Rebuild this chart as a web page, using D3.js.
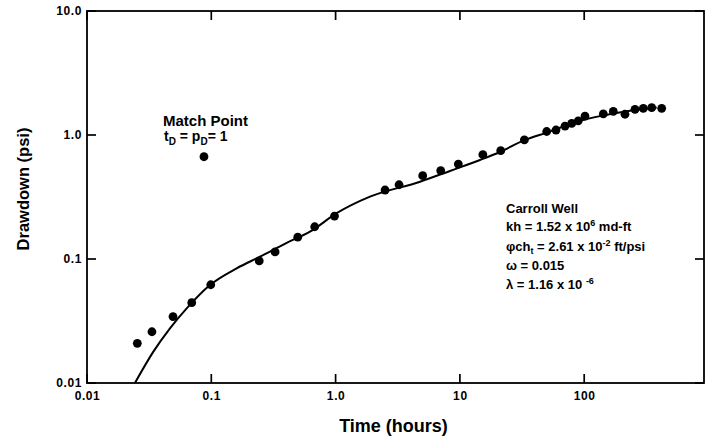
<!DOCTYPE html>
<html>
<head>
<meta charset="utf-8">
<script src="https://cdn.jsdelivr.net/npm/d3@7"></script>
<style>
  html, body { margin: 0; padding: 0; background: #fff; }
  svg { display: block; }
  text { font-family: "Liberation Sans", Arial, Helvetica, sans-serif; fill: #000; }
</style>
</head>
<body>
<svg id="chart" width="713" height="438"></svg>
<script>
// Measured drawdown, Carroll Well (time in hours, drawdown in psi)
const obsTime = [0.0254, 0.0333, 0.0492, 0.0696, 0.099, 0.243, 0.326, 0.496, 0.679, 0.98,
                 2.50, 3.24, 5.02, 7.01, 9.71, 15.3, 21.3, 33.0, 49.9, 59.3,
                 70.1, 79.3, 89.6, 101.5, 142.5, 171.4, 212.9, 256.3, 298.9, 349.2, 420.2];
const obsDrawdown = [0.0209, 0.0259, 0.0343, 0.0444, 0.062, 0.0964, 0.114, 0.150, 0.182, 0.222,
                     0.360, 0.397, 0.470, 0.517, 0.583, 0.694, 0.747, 0.912, 1.067, 1.097,
                     1.18, 1.24, 1.30, 1.42, 1.48, 1.55, 1.47, 1.61, 1.64, 1.66, 1.64];

// Type-curve match (double-porosity model)
const fitTime = [0.0243, 0.0342, 0.0465, 0.0634, 0.0976, 0.160, 0.2465, 0.404, 0.622, 1.02,
                 1.89, 4.78, 8.32, 14.5, 21.0, 32.4, 49.9, 92.5, 134, 234, 383];
const fitDrawdown = [0.0100, 0.0179, 0.0276, 0.040, 0.0617, 0.0841, 0.1044, 0.135, 0.166, 0.234,
                     0.318, 0.42, 0.513, 0.628, 0.729, 0.90, 1.045, 1.30, 1.42, 1.57, 1.67];

// Match point
const matchTime = [0.0873];
const matchDrawdown = [0.668];

// Axes
const xTickValues = [0.01, 0.1, 1, 10, 100];
const xTickLabels = ["0.01", "0.1", "1.0", "10", "100"];
const yTickValues = [0.01, 0.1, 1, 10];
const yTickLabels = ["0.01", "0.1", "1.0", "10.0"];
const xMax = 920;

const svg = d3.select("#chart");
const pLeft = 87, pRight = 704, pTop = 11, pBottom = 383;

const x = d3.scaleLog().domain([0.01, xMax]).range([pLeft, pRight]);
const y = d3.scaleLog().domain([0.01, 10]).range([pBottom, pTop]);

svg.append("defs").append("clipPath").attr("id", "plotClip")
  .append("rect").attr("x", pLeft).attr("y", pTop)
  .attr("width", pRight - pLeft).attr("height", pBottom - pTop);

// Tick labels via d3 axes (tick marks drawn separately, pointing inward)
const fmt = (labels, values) => d => labels[values.indexOf(d)];
const tickLen = 9;

const gB = svg.append("g").attr("transform", `translate(0,${pBottom})`)
  .call(d3.axisBottom(x).tickValues(xTickValues).tickFormat(fmt(xTickLabels, xTickValues))
    .tickSize(0).tickPadding(8));
const gL = svg.append("g").attr("transform", `translate(${pLeft},0)`)
  .call(d3.axisLeft(y).tickValues(yTickValues).tickFormat(fmt(yTickLabels, yTickValues))
    .tickSize(0).tickPadding(5));

[gB, gL].forEach(g => {
  g.select(".domain").remove();
  g.selectAll(".tick line").remove();
  g.selectAll(".tick text")
    .attr("fill", "#000")
    .style("font-size", "12px")
    .style("font-weight", "bold")
    .style("letter-spacing", "0.6px")
    .style("font-family", "'Liberation Sans', Arial, Helvetica, sans-serif");
});

// Inward tick marks on all four sides
const ticks = svg.append("g").attr("stroke", "#000").attr("stroke-width", 1.7);
xTickValues.forEach(v => {
  ticks.append("line").attr("x1", x(v)).attr("x2", x(v)).attr("y1", pBottom).attr("y2", pBottom - tickLen);
  ticks.append("line").attr("x1", x(v)).attr("x2", x(v)).attr("y1", pTop).attr("y2", pTop + tickLen);
});
yTickValues.forEach(v => {
  ticks.append("line").attr("x1", pLeft).attr("x2", pLeft + tickLen).attr("y1", y(v)).attr("y2", y(v));
  ticks.append("line").attr("x1", pRight).attr("x2", pRight - tickLen).attr("y1", y(v)).attr("y2", y(v));
});

// Plot frame
svg.append("rect")
  .attr("x", pLeft).attr("y", pTop)
  .attr("width", pRight - pLeft).attr("height", pBottom - pTop)
  .attr("fill", "none").attr("stroke", "#000").attr("stroke-width", 1.8);

// Fitted curve
const fitPts = fitTime.map((t, i) => [t, fitDrawdown[i]]);
svg.append("path")
  .datum(fitPts)
  .attr("clip-path", "url(#plotClip)")
  .attr("fill", "none")
  .attr("stroke", "#000")
  .attr("stroke-width", 2)
  .attr("d", d3.line().x(d => x(d[0])).y(d => y(d[1])).curve(d3.curveMonotoneX));

// Observed points
const obsPts = obsTime.map((t, i) => [t, obsDrawdown[i]]);
svg.append("g").selectAll("circle")
  .data(obsPts).join("circle")
  .attr("cx", d => x(d[0])).attr("cy", d => y(d[1]))
  .attr("r", 4.4).attr("fill", "#000");

// Match point marker
svg.append("g").selectAll("circle")
  .data(matchTime.map((t, i) => [t, matchDrawdown[i]])).join("circle")
  .attr("cx", d => x(d[0])).attr("cy", d => y(d[1]))
  .attr("r", 4.4).attr("fill", "#000");

// Match point label
const mp = svg.append("g").style("font-weight", "bold");
mp.append("text").attr("x", 163).attr("y", 126).style("font-size", "15px").text("Match Point");
const mp2 = mp.append("text").attr("x", 164).attr("y", 141).style("font-size", "14px");
mp2.append("tspan").text("t");
mp2.append("tspan").attr("dy", 4).style("font-size", "10px").text("D");
mp2.append("tspan").attr("dy", -4).text(" = p");
mp2.append("tspan").attr("dy", 4).style("font-size", "10px").text("D");
mp2.append("tspan").attr("dy", -4).text("= 1");

// Well parameters
const info = svg.append("g").style("font-weight", "bold").style("font-size", "13px");
const ix = 506;
info.append("text").attr("x", ix).attr("y", 213).text("Carroll Well");

const l1 = info.append("text").attr("x", ix).attr("y", 231);
l1.append("tspan").text("kh = 1.52 x 10");
l1.append("tspan").attr("dy", -5).style("font-size", "9px").text("6");
l1.append("tspan").attr("dy", 5).text(" md-ft");

const l2 = info.append("text").attr("x", ix).attr("y", 251);
l2.append("tspan").text("φch");
l2.append("tspan").attr("dy", 3).style("font-size", "9px").text("t");
l2.append("tspan").attr("dy", -3).text(" = 2.61 x 10");
l2.append("tspan").attr("dy", -5).style("font-size", "9px").text("-2");
l2.append("tspan").attr("dy", 5).text(" ft/psi");

info.append("text").attr("x", ix).attr("y", 270).text("ω = 0.015");

const l4 = info.append("text").attr("x", ix).attr("y", 288.5);
l4.append("tspan").text("λ = 1.16 x 10 ");
l4.append("tspan").attr("dy", -5).style("font-size", "9px").text("-6");

// Axis titles
svg.append("text")
  .attr("x", (pLeft + pRight) / 2 - 2).attr("y", 432)
  .attr("text-anchor", "middle")
  .style("font-size", "18px").style("font-weight", "bold")
  .text("Time (hours)");

svg.append("text")
  .attr("transform", "translate(28.5,189) rotate(-90)")
  .attr("text-anchor", "middle")
  .style("font-size", "16.5px").style("font-weight", "bold")
  .text("Drawdown (psi)");
</script>
</body>
</html>
